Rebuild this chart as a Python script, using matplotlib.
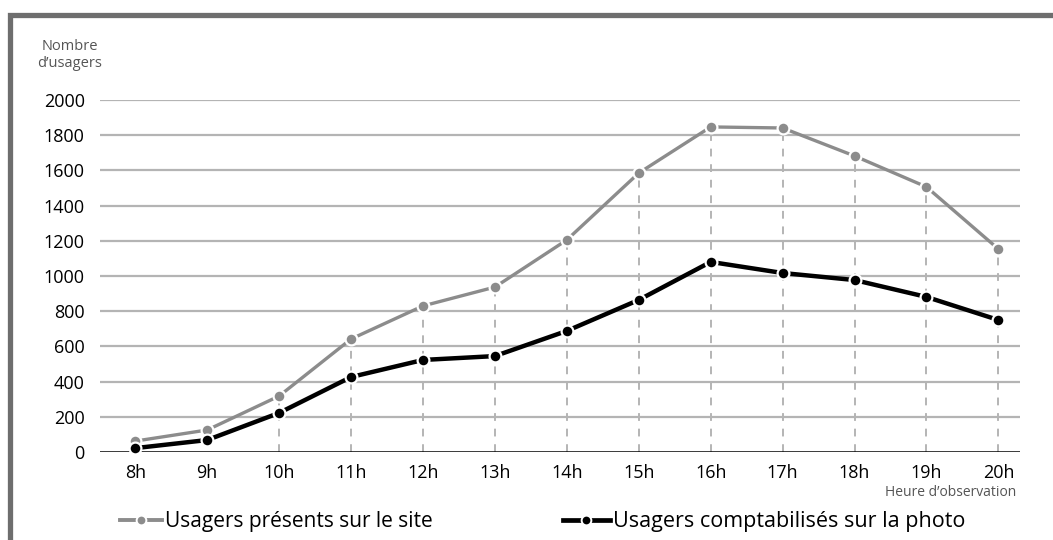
import matplotlib
matplotlib.use("Agg")
import matplotlib.pyplot as plt
from matplotlib.patches import Rectangle
from matplotlib.lines import Line2D

# data
hours = ["8h", "9h", "10h", "11h", "12h", "13h", "14h", "15h", "16h", "17h", "18h", "19h", "20h"]
site = [62, 125, 318, 642, 830, 937, 1205, 1585, 1847, 1841, 1682, 1506, 1153]
photo = [22, 68, 222, 426, 523, 545, 688, 864, 1080, 1017, 977, 881, 750]
yticks = [0, 200, 400, 600, 800, 1000, 1200, 1400, 1600, 1800, 2000]

label_site = "Usagers présents sur le site"
label_photo = "Usagers comptabilisés sur la photo"

plt.rcParams["font.family"] = ["Open Sans", "DejaVu Sans"]

GRAY = "#8c8c8c"
GRID = "#b4b4b4"

fig = plt.figure(figsize=(10.53, 5.40), dpi=100)
ax = fig.add_axes([100 / 1053, 88 / 540, 920 / 1053, 352 / 540])

x = list(range(8, 8 + len(hours)))

# grid
for t in yticks[1:]:
    ax.axhline(t, color=GRID, lw=1.6, zorder=1)
ax.axhline(0, color="black", lw=1.8, zorder=2)

# dashed drop lines (from 10h on)
for xi, s in zip(x[2:], site[2:]):
    ax.plot([xi, xi], [0, s], color=GRID, lw=1.4, ls=(0, (4, 4)), zorder=1.5)

ax.plot(x, site, color=GRAY, lw=2.4, marker="o", ms=8.5, mfc=GRAY,
        mec="white", mew=1.6, zorder=3, clip_on=False)
ax.plot(x, photo, color="black", lw=3.2, marker="o", ms=8.5, mfc="black",
        mec="white", mew=1.6, zorder=4, clip_on=False)

ax.set_xlim(7.51, 20.3)
ax.set_ylim(0, 2000)
ax.set_xticks(x)
ax.set_xticklabels(hours, fontsize=13)
ax.set_yticks(yticks)
ax.set_yticklabels([str(t) for t in yticks], fontsize=13)
ax.tick_params(length=0, pad=9)
ax.tick_params(axis="y", pad=11)
for sp in ax.spines.values():
    sp.set_visible(False)

fig.text(70 / 1053, 1 - 55 / 540, "Nombre\nd\u2019usagers", ha="center", va="center",
         fontsize=10.5, color="#555555", linespacing=1.15)
fig.text(1016 / 1053, 1 - 493 / 540, "Heure d\u2019observation", ha="right", va="center",
         fontsize=10, color="#555555")

# legend
h1 = Line2D([], [], color=GRAY, lw=2.8, marker="o", ms=7, mfc=GRAY, mec="white", mew=1.4)
h2 = Line2D([], [], color="black", lw=3.4, marker="o", ms=7, mfc="black", mec="white", mew=1.4)
fig.legend([h1], [label_site], loc="center left", bbox_to_anchor=(110 / 1053, 1 - 522 / 540),
           frameon=False, fontsize=15, handlelength=2.0, handletextpad=0.15, borderpad=0)
fig.legend([h2], [label_photo], loc="center left", bbox_to_anchor=(552 / 1053, 1 - 522 / 540),
           frameon=False, fontsize=15.5, handlelength=2.2, handletextpad=0.15, borderpad=0)

# outer frame (cropped at right and bottom)
fig.add_artist(Rectangle((9.5 / 1053, -0.1), 1.2, 1 - 15.5 / 540 + 0.1, transform=fig.transFigure,
                         fill=False, edgecolor="#6e6e6e", lw=3.8, clip_on=False))

fig.savefig("out.png", dpi=100)
